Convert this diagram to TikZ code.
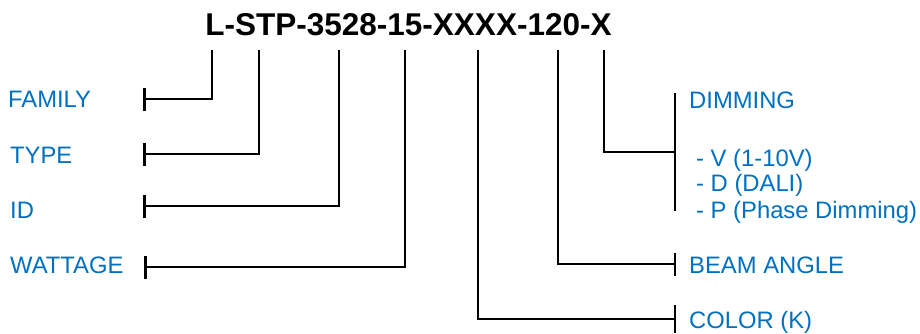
\documentclass[tikz,border=0pt]{standalone}
\usepackage{fontspec}
\setmainfont{Liberation Sans}
\usetikzlibrary{arrows.meta}
\definecolor{codeblue}{RGB}{0,112,192}

\begin{document}
\begin{tikzpicture}[x=1pt, y=-1pt,
    field/.style={text=codeblue, font=\fontsize{23.8}{25}\selectfont, inner sep=0pt, anchor=base west},
    lead/.style={line width=2pt, {Bar[width=23pt, line width=2.5pt]}-},
    biglead/.style={line width=2pt, {Bar[width=118pt, line width=2.5pt]}-}]
\useasboundingbox (0,0) rectangle (920,333);

% Part number
\node[anchor=base, inner sep=0pt, font=\fontsize{31.5}{33}\bfseries] (code) at (408.5,35) {L-STP-3528-15-XXXX-120-X};

% Tops of the leads, under each group
\coordinate (cL) at (212,50);
\coordinate (cSTP) at (259,50);
\coordinate (cID) at (339,50);
\coordinate (cW) at (405,50);
\coordinate (cK) at (478,50);
\coordinate (cB) at (558,50);
\coordinate (cD) at (604,50);

% Left labels
\node[field] (family) at (8,107) {FAMILY};
\node[field] (type) at (10,163) {TYPE};
\node[field] (id) at (10,218) {ID};
\node[field] (watt) at (10,273) {WATTAGE};

% Right labels
\node[field] (dim) at (689,108) {DIMMING};
\node[field] (dimv) at (696,166) {- V (1-10V)};
\node[field] (dimd) at (696,191) {- D (DALI)};
\node[field] (dimp) at (696,218) {- P (Phase Dimming)};
\node[field] (beam) at (689,273) {BEAM ANGLE};
\node[field] (color) at (689,328) {COLOR (K)};

% Tick ends
\coordinate (tFam) at (143,99);
\coordinate (tType) at (143,154);
\coordinate (tID) at (143,206);
\coordinate (tWatt) at (144,267);
\coordinate (tDim) at (676,152);
\coordinate (tBeam) at (676,264);
\coordinate (tColor) at (676,319);

% Leads
\draw[lead] (tFam) -| (cL);
\draw[lead] (tType) -| (cSTP);
\draw[lead] (tID) -| (cID);
\draw[lead] (tWatt) -| (cW);
\draw[biglead] (tDim) -| (cD);
\draw[lead] (tBeam) -| (cB);
\draw[lead, {Bar[width=28pt, line width=2.5pt]}-] (tColor) -| (cK);

\end{tikzpicture}
\end{document}
